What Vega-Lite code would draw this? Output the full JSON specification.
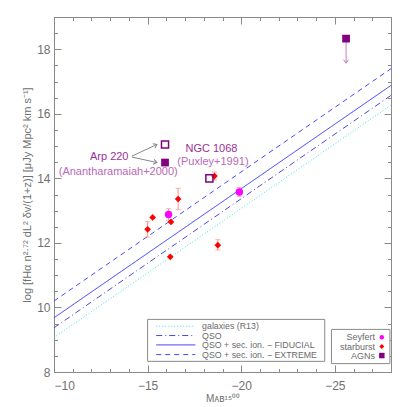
{
  "$schema": "https://vega.github.io/schema/vega-lite/v6.json",
  "width": 337,
  "height": 355,
  "autosize": "none",
  "padding": {"left": 54, "top": 17, "right": 16, "bottom": 35},
  "background": "white",
  "config": {
    "view": {"stroke": "#8a8a8a", "strokeWidth": 1},
    "axis": {"domain": false, "grid": false, "tickColor": "#8a8a8a", "tickWidth": 1, "labelColor": "#707070", "titleColor": "#707070", "labelFont": "Liberation Sans", "titleFont": "Liberation Sans", "titleFontWeight": "normal", "labelFontSize": 12, "titleFontSize": 11}
  },
  "resolve": {"axis": {"x": "independent", "y": "independent"}},
  "datasets": {
    "lines": [
      {"model": "galaxies", "x": -10, "y": 9.07}, {"model": "galaxies", "x": -28, "y": 16.27},
      {"model": "QSO", "x": -10, "y": 9.37}, {"model": "QSO", "x": -28, "y": 16.57},
      {"model": "FIDUCIAL", "x": -10, "y": 9.68}, {"model": "FIDUCIAL", "x": -28, "y": 16.88},
      {"model": "EXTREME", "x": -10, "y": 10.2}, {"model": "EXTREME", "x": -28, "y": 17.4}
    ],
    "leglines": [
      {"model": "galaxies", "x": -15.46, "y": 9.42}, {"model": "galaxies", "x": -17.55, "y": 9.42},
      {"model": "QSO", "x": -15.46, "y": 9.13}, {"model": "QSO", "x": -17.55, "y": 9.13},
      {"model": "FIDUCIAL", "x": -15.46, "y": 8.84}, {"model": "FIDUCIAL", "x": -17.55, "y": 8.84},
      {"model": "EXTREME", "x": -15.46, "y": 8.54}, {"model": "EXTREME", "x": -17.55, "y": 8.54}
    ],
    "err": [
      {"x": -16.12, "lo": 12.7, "hi": 13.06},
      {"x": -19.9, "lo": 13.44, "hi": 13.72},
      {"x": -15.0, "lo": 12.18, "hi": 12.66},
      {"x": -16.63, "lo": 13.03, "hi": 13.69},
      {"x": -18.57, "lo": 13.95, "hi": 14.2},
      {"x": -18.75, "lo": 11.78, "hi": 12.1}
    ],
    "seyfert": [
      {"x": -16.12, "y": 12.88},
      {"x": -19.9, "y": 13.58}
    ],
    "starburst": [
      {"x": -15.0, "y": 12.42},
      {"x": -15.27, "y": 12.79},
      {"x": -16.25, "y": 12.65},
      {"x": -16.21, "y": 11.57},
      {"x": -16.63, "y": 13.36},
      {"x": -18.57, "y": 14.07},
      {"x": -18.75, "y": 11.93}
    ],
    "agn": [
      {"name": "Arp 220 a", "x": -15.93, "y": 15.05, "fill": "open"},
      {"name": "Arp 220 b", "x": -15.93, "y": 14.49, "fill": "filled"},
      {"name": "NGC 1068", "x": -18.30, "y": 14.0, "fill": "open"},
      {"name": "AGN", "x": -25.6, "y": 18.33, "fill": "filled"}
    ],
    "arrows": [
      {"id": "up", "x": -14.16, "y": 14.69, "x2": -15.5, "y2": 15.05},
      {"id": "down", "x": -14.16, "y": 14.66, "x2": -15.5, "y2": 14.49}
    ],
    "limit": [
      {"x": -25.6, "y": 18.25, "y2": 17.57}
    ],
    "labels": [
      {"text": "Arp 220", "x": -12.95, "y": 14.67, "kind": "name"},
      {"text": "(Anantharamaiah+2000)", "x": -13.43, "y": 14.2, "kind": "ref"},
      {"text": "NGC 1068", "x": -18.41, "y": 14.9, "kind": "name"},
      {"text": "(Puxley+1991)", "x": -18.49, "y": 14.5, "kind": "ref"}
    ],
    "legbox": [
      {"x": -15.0, "x2": -24.46, "y": 9.63, "y2": 8.33},
      {"x": -24.82, "x2": -27.94, "y": 9.32, "y2": 8.26}
    ],
    "legtextL": [
      {"text": "galaxies (R13)", "x": -17.91, "y": 9.42},
      {"text": "QSO", "x": -17.91, "y": 9.13},
      {"text": "QSO + sec. ion. − FIDUCIAL", "x": -17.91, "y": 8.84},
      {"text": "QSO + sec. ion. − EXTREME", "x": -17.91, "y": 8.54}
    ],
    "legtextR": [
      {"text": "Seyfert", "x": -27.14, "y": 9.08},
      {"text": "starburst", "x": -27.14, "y": 8.79},
      {"text": "AGNs", "x": -27.14, "y": 8.51}
    ],
    "legsym": [
      {"cls": "Seyfert", "x": -27.51, "y": 9.08},
      {"cls": "starburst", "x": -27.51, "y": 8.79},
      {"cls": "AGNs", "x": -27.51, "y": 8.51}
    ]
  },
  "layer": [
    {
      "data": {"name": "lines"},
      "mark": {"type": "line", "strokeWidth": 1},
      "encoding": {
        "x": {"field": "x", "type": "quantitative", "scale": {"domain": [-10, -28], "nice": false, "zero": false},
          "axis": {"orient": "bottom", "values": [-10, -15, -20, -25], "tickSize": -7, "labelPadding": 15, "title": "Mᴀʙ¹⁵⁰⁰", "titlePadding": 2, "titleFontSize": 10}},
        "y": {"field": "y", "type": "quantitative", "scale": {"domain": [8, 19], "nice": false, "zero": false},
          "axis": {"orient": "left", "values": [8, 10, 12, 14, 16, 18], "tickSize": -7, "labelPadding": 11, "title": "log [fHα n²·⁷² dL² δv/(1+z)] [μJy Mpc² km s⁻¹]", "titlePadding": 4}},
        "color": {"field": "model", "type": "nominal", "legend": null,
          "scale": {"domain": ["galaxies", "QSO", "FIDUCIAL", "EXTREME"], "range": ["#30e8f0", "#4646e6", "#3838ff", "#4848ff"]}},
        "strokeDash": {"field": "model", "type": "nominal", "legend": null,
          "scale": {"domain": ["galaxies", "QSO", "FIDUCIAL", "EXTREME"], "range": [[1, 2], [6, 3, 1, 3], [1, 0], [5, 4]]}}
      }
    },
    {
      "data": {"name": "err"},
      "mark": {"type": "rule", "color": "#ff8c8c", "strokeWidth": 1},
      "encoding": {
        "x": {"field": "x", "type": "quantitative", "scale": {"domain": [-10, -28], "nice": false, "zero": false},
          "axis": {"orient": "bottom", "values": [-10, -11, -12, -13, -14, -15, -16, -17, -18, -19, -20, -21, -22, -23, -24, -25, -26, -27, -28], "tickSize": -3.5, "labels": false, "title": null}},
        "y": {"field": "lo", "type": "quantitative", "scale": {"domain": [8, 19], "nice": false, "zero": false},
          "axis": {"orient": "left", "values": [8, 8.5, 9, 9.5, 10, 10.5, 11, 11.5, 12, 12.5, 13, 13.5, 14, 14.5, 15, 15.5, 16, 16.5, 17, 17.5, 18, 18.5, 19], "tickSize": -3.5, "labels": false, "title": null}},
        "y2": {"field": "hi"}
      }
    },
    {
      "data": {"name": "err"},
      "mark": {"type": "tick", "orient": "horizontal", "color": "#ff8c8c", "size": 5, "thickness": 1},
      "encoding": {
        "x": {"field": "x", "type": "quantitative", "scale": {"domain": [-10, -28], "nice": false, "zero": false},
          "axis": {"orient": "top", "values": [-10, -15, -20, -25], "tickSize": -7, "labels": false, "title": null}},
        "y": {"field": "lo", "type": "quantitative", "scale": {"domain": [8, 19], "nice": false, "zero": false},
          "axis": {"orient": "right", "values": [8, 10, 12, 14, 16, 18], "tickSize": -7, "labels": false, "title": null}}
      }
    },
    {
      "data": {"name": "err"},
      "mark": {"type": "tick", "orient": "horizontal", "color": "#ff8c8c", "size": 5, "thickness": 1},
      "encoding": {
        "x": {"field": "x", "type": "quantitative", "scale": {"domain": [-10, -28], "nice": false, "zero": false},
          "axis": {"orient": "top", "values": [-10, -11, -12, -13, -14, -15, -16, -17, -18, -19, -20, -21, -22, -23, -24, -25, -26, -27, -28], "tickSize": -3.5, "labels": false, "title": null}},
        "y": {"field": "hi", "type": "quantitative", "scale": {"domain": [8, 19], "nice": false, "zero": false},
          "axis": {"orient": "right", "values": [8, 8.5, 9, 9.5, 10, 10.5, 11, 11.5, 12, 12.5, 13, 13.5, 14, 14.5, 15, 15.5, 16, 16.5, 17, 17.5, 18, 18.5, 19], "tickSize": -3.5, "labels": false, "title": null}}
      }
    },
    {
      "data": {"name": "limit"},
      "mark": {"type": "rule", "color": "#c080c0", "strokeWidth": 1},
      "encoding": {
        "x": {"field": "x", "type": "quantitative", "axis": null},
        "y": {"field": "y", "type": "quantitative", "axis": null},
        "y2": {"field": "y2"}
      }
    },
    {
      "data": {"name": "limit"},
      "mark": {"type": "point", "shape": "M -1 -0.7 L 0 0 L -1 0.7", "filled": false, "color": "#c080c0", "strokeWidth": 1, "size": 50, "angle": 90, "opacity": 1},
      "encoding": {
        "x": {"field": "x", "type": "quantitative", "axis": null},
        "y": {"field": "y2", "type": "quantitative", "axis": null}
      }
    },
    {
      "data": {"name": "starburst"},
      "mark": {"type": "point", "shape": "diamond", "filled": true, "color": "#ff0000", "size": 45, "opacity": 1},
      "encoding": {
        "x": {"field": "x", "type": "quantitative", "axis": null},
        "y": {"field": "y", "type": "quantitative", "axis": null}
      }
    },
    {
      "data": {"name": "seyfert"},
      "mark": {"type": "circle", "color": "#ff00ff", "size": 55, "opacity": 1},
      "encoding": {
        "x": {"field": "x", "type": "quantitative", "axis": null},
        "y": {"field": "y", "type": "quantitative", "axis": null}
      }
    },
    {
      "data": {"name": "agn"},
      "transform": [{"filter": "datum.fill === 'filled'"}],
      "mark": {"type": "square", "color": "#800080", "size": 60, "opacity": 1},
      "encoding": {
        "x": {"field": "x", "type": "quantitative", "axis": null},
        "y": {"field": "y", "type": "quantitative", "axis": null}
      }
    },
    {
      "data": {"name": "agn"},
      "transform": [{"filter": "datum.fill === 'open'"}],
      "mark": {"type": "point", "shape": "square", "filled": false, "color": "#800080", "strokeWidth": 1.5, "size": 50, "opacity": 1},
      "encoding": {
        "x": {"field": "x", "type": "quantitative", "axis": null},
        "y": {"field": "y", "type": "quantitative", "axis": null}
      }
    },
    {
      "data": {"name": "arrows"},
      "mark": {"type": "rule", "color": "#888888", "strokeWidth": 1},
      "encoding": {
        "x": {"field": "x", "type": "quantitative", "axis": null},
        "y": {"field": "y", "type": "quantitative", "axis": null},
        "x2": {"field": "x2"},
        "y2": {"field": "y2"}
      }
    },
    {
      "data": {"name": "arrows"},
      "transform": [{"filter": "datum.id === 'up'"}],
      "mark": {"type": "point", "shape": "M -1 -0.7 L 0 0 L -1 0.7", "filled": false, "color": "#888888", "strokeWidth": 1, "size": 50, "angle": -25, "opacity": 1},
      "encoding": {
        "x": {"field": "x2", "type": "quantitative", "axis": null},
        "y": {"field": "y2", "type": "quantitative", "axis": null}
      }
    },
    {
      "data": {"name": "arrows"},
      "transform": [{"filter": "datum.id === 'down'"}],
      "mark": {"type": "point", "shape": "M -1 -0.7 L 0 0 L -1 0.7", "filled": false, "color": "#888888", "strokeWidth": 1, "size": 50, "angle": 13, "opacity": 1},
      "encoding": {
        "x": {"field": "x2", "type": "quantitative", "axis": null},
        "y": {"field": "y2", "type": "quantitative", "axis": null}
      }
    },
    {
      "data": {"name": "labels"},
      "transform": [{"filter": "datum.kind === 'name'"}],
      "mark": {"type": "text", "font": "Liberation Sans", "fontSize": 11, "align": "center", "baseline": "middle", "color": "#9a309a"},
      "encoding": {
        "x": {"field": "x", "type": "quantitative", "axis": null},
        "y": {"field": "y", "type": "quantitative", "axis": null},
        "text": {"field": "text"}
      }
    },
    {
      "data": {"name": "labels"},
      "transform": [{"filter": "datum.kind === 'ref'"}],
      "mark": {"type": "text", "font": "Liberation Sans", "fontSize": 11, "align": "center", "baseline": "middle", "color": "#b86ab8"},
      "encoding": {
        "x": {"field": "x", "type": "quantitative", "axis": null},
        "y": {"field": "y", "type": "quantitative", "axis": null},
        "text": {"field": "text"}
      }
    },
    {
      "data": {"name": "legbox"},
      "mark": {"type": "rect", "fill": "white", "stroke": "#8a8a8a", "strokeWidth": 1},
      "encoding": {
        "x": {"field": "x", "type": "quantitative", "axis": null},
        "y": {"field": "y", "type": "quantitative", "axis": null},
        "x2": {"field": "x2"},
        "y2": {"field": "y2"}
      }
    },
    {
      "data": {"name": "leglines"},
      "mark": {"type": "line", "strokeWidth": 1},
      "encoding": {
        "x": {"field": "x", "type": "quantitative", "axis": null},
        "y": {"field": "y", "type": "quantitative", "axis": null},
        "color": {"field": "model", "type": "nominal", "legend": null},
        "strokeDash": {"field": "model", "type": "nominal", "legend": null}
      }
    },
    {
      "data": {"name": "legtextL"},
      "mark": {"type": "text", "font": "Liberation Sans", "fontSize": 8.8, "align": "left", "baseline": "middle", "color": "#6a6a6a"},
      "encoding": {
        "x": {"field": "x", "type": "quantitative", "axis": null},
        "y": {"field": "y", "type": "quantitative", "axis": null},
        "text": {"field": "text"}
      }
    },
    {
      "data": {"name": "legtextR"},
      "mark": {"type": "text", "font": "Liberation Sans", "fontSize": 9, "align": "right", "baseline": "middle", "color": "#6a6a6a"},
      "encoding": {
        "x": {"field": "x", "type": "quantitative", "axis": null},
        "y": {"field": "y", "type": "quantitative", "axis": null},
        "text": {"field": "text"}
      }
    },
    {
      "data": {"name": "legsym"},
      "transform": [{"filter": "datum.cls === 'Seyfert'"}],
      "mark": {"type": "point", "shape": "circle", "filled": true, "size": 20, "opacity": 1, "color": "#ff00ff"},
      "encoding": {
        "x": {"field": "x", "type": "quantitative", "axis": null},
        "y": {"field": "y", "type": "quantitative", "axis": null}
      }
    },
    {
      "data": {"name": "legsym"},
      "transform": [{"filter": "datum.cls === 'starburst'"}],
      "mark": {"type": "point", "shape": "diamond", "filled": true, "size": 25, "opacity": 1, "color": "#ff0000"},
      "encoding": {
        "x": {"field": "x", "type": "quantitative", "axis": null},
        "y": {"field": "y", "type": "quantitative", "axis": null}
      }
    },
    {
      "data": {"name": "legsym"},
      "transform": [{"filter": "datum.cls === 'AGNs'"}],
      "mark": {"type": "point", "shape": "square", "filled": true, "size": 30, "opacity": 1, "color": "#800080"},
      "encoding": {
        "x": {"field": "x", "type": "quantitative", "axis": null},
        "y": {"field": "y", "type": "quantitative", "axis": null}
      }
    }
  ]
}
